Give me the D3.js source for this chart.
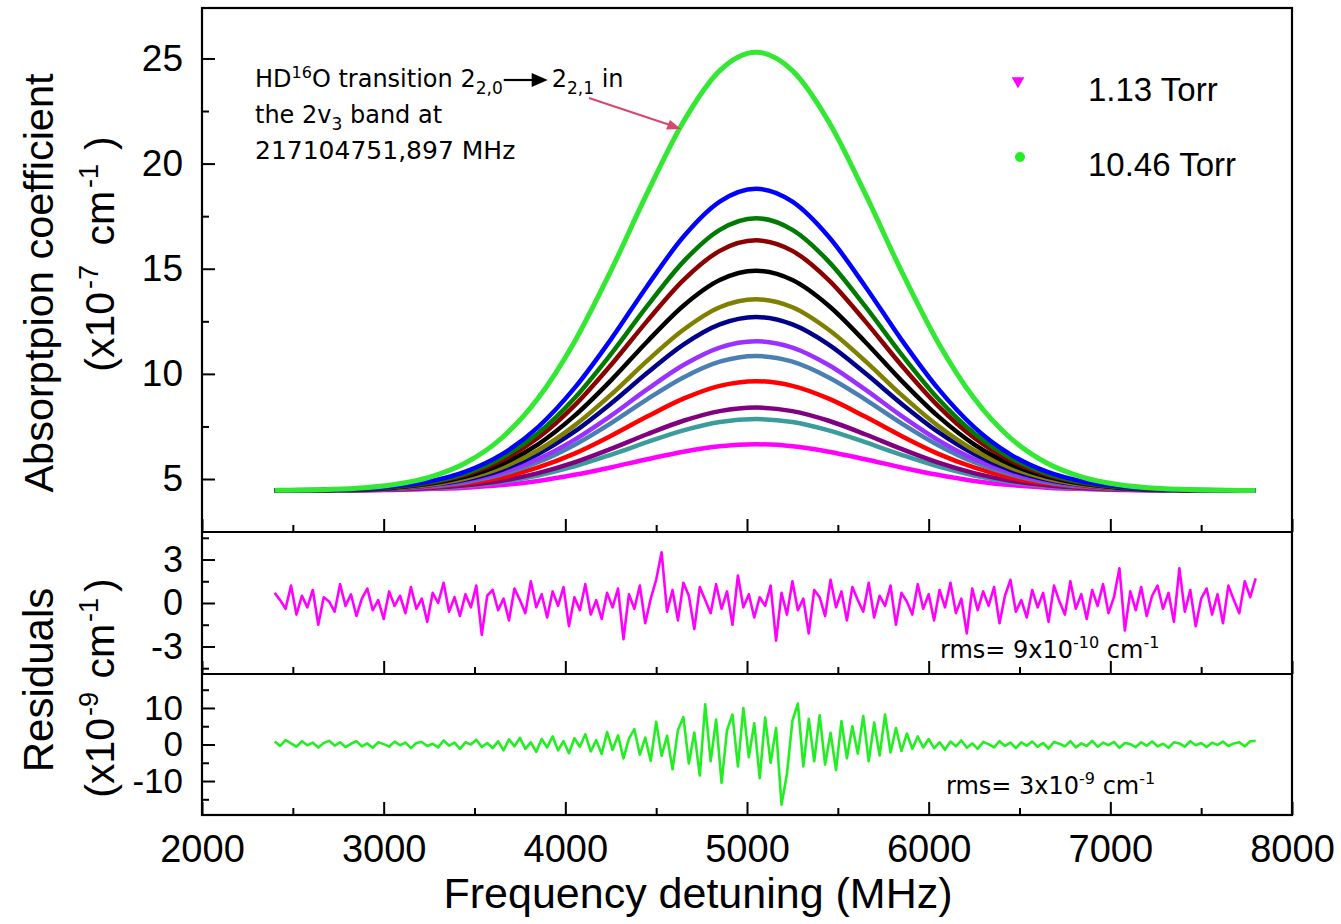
<!DOCTYPE html>
<html>
<head>
<meta charset="utf-8">
<script src="https://cdn.jsdelivr.net/npm/d3@7"></script>
<style>
  html, body { margin: 0; padding: 0; background: #fff; }
  svg { display: block; }
</style>
</head>
<body>
<svg id="chart" width="1341" height="924"></svg>
<script>
// ---------------- DATA ----------------
const freq = [2400,2650,2850,3050,3250,3450,3650,3850,4050,4250,4450,4650,4850,5050,5250,5450,5650,5850,6050,6250,6450,6650,6850,7050,7250,7450,7650,7800];

const curveNames  = ["1.13 Torr","c2","c3","c4","c5","c6","c7","c8","c9","c10","c11","c12","10.46 Torr"];
const curveColors = ["#ff00ff","#3c9c9c","#800080","#ff0000","#4a7fb4","#9b30ff","#00008b","#808000","#000000","#8b0000","#007a00","#0000ff","#33e833"];

const magentaCurve = [4.45,4.45,4.46,4.48,4.52,4.59,4.71,4.91,5.20,5.55,5.94,6.30,6.56,6.65,6.56,6.30,5.94,5.55,5.20,4.91,4.71,4.59,4.52,4.48,4.46,4.45,4.45,4.45];
const tealCurve    = [4.45,4.46,4.47,4.50,4.55,4.66,4.86,5.17,5.60,6.15,6.75,7.31,7.71,7.85,7.71,7.31,6.75,6.15,5.60,5.17,4.86,4.66,4.55,4.50,4.47,4.46,4.45,4.45];
const purpleCurve  = [4.45,4.46,4.47,4.50,4.57,4.70,4.92,5.28,5.79,6.43,7.13,7.77,8.23,8.40,8.23,7.77,7.13,6.43,5.79,5.28,4.92,4.70,4.57,4.50,4.47,4.46,4.45,4.45];
const redCurve     = [4.45,4.46,4.48,4.52,4.61,4.78,5.07,5.55,6.21,7.05,7.97,8.82,9.43,9.65,9.43,8.82,7.97,7.05,6.21,5.55,5.07,4.78,4.61,4.52,4.48,4.46,4.45,4.45];
const steelCurve   = [4.45,4.46,4.48,4.53,4.64,4.85,5.22,5.80,6.62,7.65,8.79,9.83,10.58,10.85,10.58,9.83,8.79,7.65,6.62,5.80,5.22,4.85,4.64,4.53,4.48,4.46,4.45,4.45];
const violetCurve  = [4.45,4.46,4.49,4.54,4.66,4.90,5.30,5.95,6.86,8.00,9.26,10.42,11.25,11.55,11.25,10.42,9.26,8.00,6.86,5.95,5.30,4.90,4.66,4.54,4.49,4.46,4.45,4.45];
const navyCurve    = [4.45,4.47,4.49,4.56,4.70,4.97,5.44,6.19,7.25,8.58,10.04,11.39,12.35,12.70,12.35,11.39,10.04,8.58,7.25,6.19,5.44,4.97,4.70,4.56,4.49,4.47,4.45,4.45];
const oliveCurve   = [4.45,4.47,4.50,4.57,4.72,5.02,5.54,6.37,7.54,9.00,10.62,12.10,13.17,13.55,13.17,12.10,10.62,9.00,7.54,6.37,5.54,5.02,4.72,4.57,4.50,4.47,4.45,4.45];
const blackCurve   = [4.46,4.47,4.51,4.59,4.77,5.11,5.71,6.65,8.00,9.68,11.53,13.24,14.46,14.90,14.46,13.24,11.53,9.68,8.00,6.65,5.71,5.11,4.77,4.59,4.51,4.47,4.46,4.45];
const darkRedCurve = [4.46,4.47,4.51,4.61,4.81,5.20,5.88,6.96,8.49,10.41,12.51,14.46,15.85,16.35,15.85,14.46,12.51,10.41,8.49,6.96,5.88,5.20,4.81,4.61,4.51,4.47,4.46,4.45];
const darkGreenCurve = [4.46,4.48,4.52,4.62,4.84,5.26,6.01,7.18,8.84,10.93,13.22,15.34,16.85,17.40,16.85,15.34,13.22,10.93,8.84,7.18,6.01,5.26,4.84,4.62,4.52,4.48,4.46,4.45];
const blueCurve    = [4.46,4.48,4.53,4.64,4.88,5.35,6.17,7.47,9.32,11.63,14.17,16.52,18.19,18.80,18.19,16.52,14.17,11.63,9.32,7.47,6.17,5.35,4.88,4.64,4.53,4.48,4.46,4.45];
const greenCurve   = [4.46,4.49,4.56,4.73,5.08,5.76,6.95,8.84,11.52,14.89,18.58,21.99,24.42,25.30,24.42,21.99,18.58,14.89,11.52,8.84,6.95,5.76,5.08,4.73,4.56,4.49,4.46,4.45];

const curveValues = [magentaCurve, tealCurve, purpleCurve, redCurve, steelCurve, violetCurve, navyCurve, oliveCurve, blackCurve, darkRedCurve, darkGreenCurve, blueCurve, greenCurve];

// residuals (x1e-9 cm-1), frequency grid starts 2400 MHz, step 30 MHz
const residStart = 2400, residStep = 30;
const residMagenta = [
  0.7, 0.2, -0.4, 1.2, -0.8, 0.5, -0.3, 0.9, -1.5, 0.4, 0.1, -0.6, 1.3, -0.2, 0.6, -0.9, 0.3, 1.0, -0.5, 0.2,
  -1.1, 0.8, -0.2, 0.5, -0.7, 1.1, -0.4, 0.3, -1.3, 0.7, 0.0, 1.4, -0.6, 0.4, -0.9, 0.6, -0.3, 1.2, -2.2, 0.5,
  0.9, -0.5, 0.3, -1.2, 1.0, 0.2, -0.7, 1.5, -0.3, 0.6, -1.0, 0.8, -0.2, 1.1, -1.6, 0.4, -0.5, 1.3, -0.8, 0.2,
  -1.1, 0.7, -0.3, 1.0, -2.5, 0.6, -0.4, 1.2, -1.4, 0.3, 1.6, 3.5, -0.6, 0.9, -1.2, 1.4, 0.5, -1.8, 1.1, 0.2,
  -0.7, 1.3, -0.4, 0.8, -1.5, 1.9, -0.3, 0.6, -1.0, 0.4, -0.2, 1.2, -2.6, 0.7, -0.8, 1.5, -0.5, 0.3, -2.1, 0.9,
  0.4, -0.9, 1.6, -0.3, 0.8, -1.2, 1.1, 0.2, -0.6, 1.4, -1.0, 0.5, -0.2, 1.2, -1.5, 0.7, 0.1, -0.8, 1.3, -0.4,
  0.6, -1.2, 0.9, -0.3, 1.4, -0.7, 0.3, -2.1, 1.0, -0.5, 0.8, -0.2, 1.1, -1.4, 0.5, 1.6, -0.6, 0.2, -1.0, 0.9,
  -0.3, 0.7, -1.3, 1.2, 0.1, -0.8, 1.5, -0.4, 0.6, -1.1, 0.9, -0.2, 1.3, -0.7, 0.4, 2.4, -1.9, 0.8, -0.5, 1.1,
  -0.9, 0.5, 1.2, -0.4, 0.7, -1.3, 2.4, -0.6, 0.9, -1.6, 0.3, 1.0, -0.8, 0.6, -1.4, 1.2, 0.2, -0.7, 1.5, 0.4, 1.7
];
const residGreen = [
  0.8, -0.4, 1.2, 0.3, -0.6, 0.9, -0.2, 0.5, -0.8, 0.4, 1.0, -0.3, 0.6, -0.7, 0.2, 0.9, -0.5, 0.3, -0.9, 0.6,
  0.1, -0.6, 0.8, -0.2, 0.5, -1.0, 0.4, 0.7, -0.4, 0.2, -0.8, 1.1, -0.3, 0.5, -1.2, 0.6, 0.0, 1.3, -0.7, 0.4,
  -1.0, 0.9, -1.6, 1.4, -0.5, 1.8, -1.2, 0.6, -2.0, 1.5, -0.8, 2.2, -1.6, 0.9, -2.4, 1.7, -0.6, 2.8, -1.9, 1.2,
  -2.6, 3.4, -1.5, 2.5, -3.8, 1.6, 4.2, -2.8, 1.9, -4.5, 6.2, -3.1, 2.4, -6.8, 4.0, 7.5, -5.2, 3.3, -8.5, 11.0,
  -4.6, 6.8, -10.5, 3.9, 8.2, -6.0, 10.0, -3.5, 5.8, -9.2, 7.4, -5.0, 4.5, -16.5, -8.0, 6.5, 11.2, -6.0, 7.0, -4.6,
  8.0, -5.5, 3.2, -7.0, 6.4, -3.8, 5.0, -2.5, 7.8, -4.6, 6.0, -3.0, 8.2, -2.2, 4.5, -1.8, 3.0, -1.2, 2.2, -0.8,
  1.5, -1.0, 0.6, -1.4, 0.8, -0.5, 1.1, -0.9, 0.3, -1.2, 0.7, 0.1, -0.8, 0.9, -0.4, 0.5, -1.0, 0.6, -0.3, 0.8,
  -0.6, 0.4, -1.1, 0.7, 0.2, -0.5, 0.9, -0.8, 0.3, -0.4, 1.0, -0.6, 0.5, -0.2, 0.7, -0.9, 0.4, 0.1, -0.7, 0.6,
  -0.3, 0.8, -0.5, 0.2, -0.9, 0.6, 0.3, -0.6, 0.9, -0.2, 0.4, -0.7, 0.5, -0.1, 0.8, -0.4, 0.3, 0.6, -0.5, 0.9, 1.0
];

// tick values
const xTicks = [2000,3000,4000,5000,6000,7000,8000];
const xMinor = [2500,3500,4500,5500,6500,7500];
const yTopTicks = [5,10,15,20,25];
const yTopMinor = [7.5,12.5,17.5,22.5];
const yR1Ticks = [-3,0,3];
const yR1Minor = [-4.5,-1.5,1.5,4.5];
const yR2Ticks = [-10,0,10];
const yR2Minor = [-15,-5,5,15];

// ---------------- LAYOUT ----------------
const svg = d3.select("#chart");
const L = 202, R = 1292;
const P0 = 8, P1 = 532, P2 = 674, P3 = 815;
const tickFont = "'Liberation Sans', Arial, sans-serif";
const annFont = "'DejaVu Sans', sans-serif";
const fmt = d => String(d);

const x = d3.scaleLinear().domain([2000, 8000]).range([L, R]);
const yTop = d3.scaleLinear().domain([2.48, 27.4]).range([P1, P0]);
const yR1 = d3.scaleLinear().domain([-4.9, 4.9]).range([P2, P1]);
const yR2 = d3.scaleLinear().domain([-19.3, 19.3]).range([P3, P2]);

// clip paths
const defs = svg.append("defs");
[[P0,P1,"c0"],[P1,P2,"c1"],[P2,P3,"c2"]].forEach(([a,b,id]) => {
  defs.append("clipPath").attr("id", id).append("rect")
    .attr("x", L).attr("y", a).attr("width", R - L).attr("height", b - a);
});

// main curves
const line = d3.line().x((d, i) => x(freq[i])).y(d => yTop(d)).curve(d3.curveMonotoneX);
const gCurves = svg.append("g").attr("clip-path", "url(#c0)");
curveValues.forEach((vals, k) => {
  gCurves.append("path").datum(vals)
    .attr("d", line)
    .attr("fill", "none")
    .attr("stroke", curveColors[k])
    .attr("stroke-width", k === curveValues.length - 1 ? 5 : 4.5)
    .attr("stroke-linejoin", "round");
});

// residuals
const rLine1 = d3.line().x((d, i) => x(residStart + i * residStep)).y(d => yR1(d));
const rLine2 = d3.line().x((d, i) => x(residStart + i * residStep)).y(d => yR2(d));
svg.append("g").attr("clip-path", "url(#c1)").append("path").datum(residMagenta)
  .attr("d", rLine1).attr("fill", "none").attr("stroke", "#ff00ff").attr("stroke-width", 2.6).attr("stroke-linejoin", "round");
svg.append("g").attr("clip-path", "url(#c2)").append("path").datum(residGreen)
  .attr("d", rLine2).attr("fill", "none").attr("stroke", "#22ee22").attr("stroke-width", 2.6).attr("stroke-linejoin", "round");

// ---------------- AXES ----------------
function styleAxis(g, size) {
  g.select(".domain").remove();
  g.selectAll("line").attr("stroke", "#000").attr("stroke-width", 2);
  g.selectAll("text").attr("fill", "#000").style("font-family", tickFont).style("font-size", (size || 37) + "px");
}
function yAxis(scale, major, minor, size) {
  svg.append("g").attr("transform", `translate(${L},0)`)
    .call(d3.axisLeft(scale).tickValues(major).tickSize(-13).tickPadding(19).tickFormat(fmt))
    .call(g => styleAxis(g, size));
  svg.append("g").attr("transform", `translate(${L},0)`)
    .call(d3.axisLeft(scale).tickValues(minor).tickSize(-7).tickFormat(""))
    .call(g => styleAxis(g, size));
}
yAxis(yTop, yTopTicks, yTopMinor, 37);
yAxis(yR1, yR1Ticks, yR1Minor, 36);
yAxis(yR2, yR2Ticks, yR2Minor, 35);

[P1, P2, P3].forEach((yy, idx) => {
  const last = idx === 2;
  svg.append("g").attr("transform", `translate(0,${yy})`)
    .call(d3.axisBottom(x).tickValues(xTicks).tickSize(-13).tickPadding(20).tickFormat(last ? fmt : ""))
    .call(g => styleAxis(g, 38));
  svg.append("g").attr("transform", `translate(0,${yy})`)
    .call(d3.axisBottom(x).tickValues(xMinor).tickSize(-7).tickFormat(""))
    .call(g => styleAxis(g, 38));
});

// frames
svg.append("rect").attr("x", L).attr("y", P0).attr("width", R - L).attr("height", P3 - P0)
  .attr("fill", "none").attr("stroke", "#000").attr("stroke-width", 2.2);
[P1, P2].forEach(yy => svg.append("line").attr("x1", L).attr("x2", R).attr("y1", yy).attr("y2", yy)
  .attr("stroke", "#000").attr("stroke-width", 2.2));

// ---------------- TITLES ----------------
svg.append("text").attr("x", 698).attr("y", 908).attr("text-anchor", "middle")
  .style("font-family", tickFont).style("font-size", "43px").text("Frequency detuning (MHz)");

function rotTitle(cx, cy, size, build) {
  const t = svg.append("text").attr("transform", `translate(${cx},${cy}) rotate(-90)`)
    .attr("text-anchor", "middle").style("font-family", tickFont).style("font-size", size + "px");
  build(t);
}
rotTitle(53, 283, 41.5, t => t.text("Absorptpion coefficient"));
rotTitle(114, 254, 41, t => {
  t.append("tspan").text("(x10");
  t.append("tspan").attr("dy", -16).attr("dx", 3).style("font-size", "27px").text("-7");
  t.append("tspan").attr("dy", 16).attr("dx", 8).text(" cm");
  t.append("tspan").attr("dy", -16).attr("dx", 3).style("font-size", "27px").text("-1");
  t.append("tspan").attr("dy", 16).attr("dx", 14).text(")");
});
rotTitle(53, 680, 42, t => t.text("Residuals"));
rotTitle(114, 688, 41, t => {
  t.append("tspan").text("(x10");
  t.append("tspan").attr("dy", -16).attr("dx", 2).style("font-size", "27px").text("-9");
  t.append("tspan").attr("dy", 16).attr("dx", 2).text(" cm");
  t.append("tspan").attr("dy", -16).attr("dx", 2).style("font-size", "27px").text("-1");
  t.append("tspan").attr("dy", 16).attr("dx", 6).text(")");
});

// ---------------- ANNOTATION ----------------
const annSize = 24;
const t1 = svg.append("text").attr("x", 255).attr("y", 87)
  .style("font-family", annFont).style("font-size", annSize + "px").attr("fill", "#000");
t1.append("tspan").text("HD");
t1.append("tspan").attr("dy", -9).style("font-size", "16px").text("16");
t1.append("tspan").attr("dy", 9).text("O transition 2");
t1.append("tspan").attr("dy", 7).style("font-size", "17px").text("2,0");
const e1 = t1.node().getBBox();
const ax0 = e1.x + e1.width + 1;
svg.append("line").attr("x1", ax0).attr("x2", ax0 + 30).attr("y1", 80).attr("y2", 80)
  .attr("stroke", "#000").attr("stroke-width", 2.2);
svg.append("path").attr("d", `M${ax0 + 28},73 L${ax0 + 44},80 L${ax0 + 28},87 Z`).attr("fill", "#000");
const t1b = svg.append("text").attr("x", ax0 + 48).attr("y", 87)
  .style("font-family", annFont).style("font-size", annSize + "px").attr("fill", "#000");
t1b.append("tspan").text("2");
t1b.append("tspan").attr("dy", 7).style("font-size", "17px").text("2,1");
t1b.append("tspan").attr("dy", -7).text(" in");

const t2 = svg.append("text").attr("x", 255).attr("y", 123)
  .style("font-family", annFont).style("font-size", annSize + "px").attr("fill", "#000");
t2.append("tspan").text("the 2v");
t2.append("tspan").attr("dy", 7).style("font-size", "17px").text("3");
t2.append("tspan").attr("dy", -7).text(" band at");

svg.append("text").attr("x", 255).attr("y", 159)
  .style("font-family", annFont).style("font-size", "25px").attr("fill", "#000")
  .text("217104751,897 MHz");

// pink arrow
svg.append("line").attr("x1", 589).attr("y1", 98).attr("x2", 670).attr("y2", 125)
  .attr("stroke", "#d9466e").attr("stroke-width", 2);
svg.append("path").attr("d", "M681,129 L666,129.5 L670,120 Z").attr("fill", "#d9466e");

// rms texts
function rms(xp, yp, mant, expo) {
  const t = svg.append("text").attr("x", xp).attr("y", yp)
    .style("font-family", annFont).style("font-size", "24px").attr("fill", "#000");
  t.append("tspan").text("rms= " + mant + "x10");
  t.append("tspan").attr("dy", -10).style("font-size", "16px").text(expo);
  t.append("tspan").attr("dy", 10).text(" cm");
  t.append("tspan").attr("dy", -10).style("font-size", "16px").text("-1");
}
rms(940, 658, "9", "-10");
rms(946, 794, "3", "-9");

// ---------------- LEGEND ----------------
svg.append("path").attr("d", d3.symbol().type(d3.symbolTriangle).size(70)())
  .attr("transform", "translate(1018,81) rotate(180)").attr("fill", "#ff00ff");
svg.append("circle").attr("cx", 1020).attr("cy", 157).attr("r", 5).attr("fill", "#22ee22");
svg.append("text").attr("x", 1088).attr("y", 101).style("font-family", tickFont).style("font-size", "33px").text(curveNames[0]);
svg.append("text").attr("x", 1088).attr("y", 176).style("font-family", tickFont).style("font-size", "33px").text(curveNames[12]);
</script>
</body>
</html>
